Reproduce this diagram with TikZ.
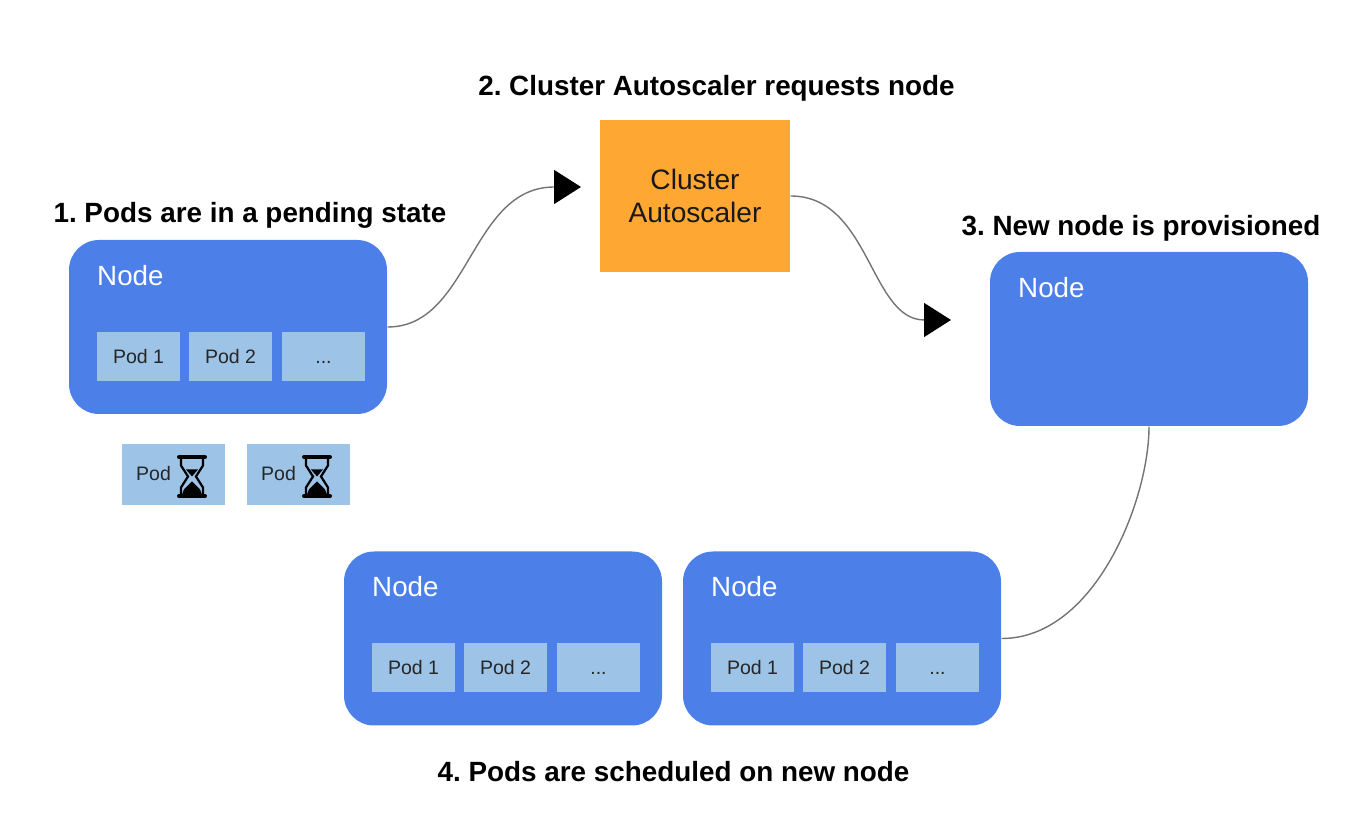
\documentclass[tikz,border=0pt]{standalone}
\usepackage{fontspec}
\setmainfont{Liberation Sans}
\usetikzlibrary{arrows.meta}
\definecolor{nodeblue}{HTML}{4C80E8}
\definecolor{podblue}{HTML}{9DC3E6}
\definecolor{scalerorange}{HTML}{FFA733}
\frenchspacing
\tikzset{
  nodebox/.style={rectangle,rounded corners=0.3cm,fill=nodeblue,minimum width=3.18cm,minimum height=1.74cm,inner sep=0},
  nodelabel/.style={anchor=west,inner sep=0,text=white,font=\fontsize{7.9}{10}\selectfont},
  podbox/.style={rectangle,fill=podblue,minimum width=0.83cm,minimum height=0.49cm,inner sep=0,text height=0.14cm,text depth=0pt,text=black!85,font=\fontsize{5.55}{7}\selectfont},
  waitbox/.style={rectangle,fill=podblue,minimum width=1.03cm,minimum height=0.61cm,inner sep=0},
  waitlabel/.style={inner sep=0,text=black!85,font=\fontsize{5.55}{7}\selectfont},
  steptitle/.style={inner sep=0,font=\fontsize{7.92}{10}\selectfont\bfseries},
  link/.style={draw=black!55,line width=0.14mm},
  linktip/.style={-{Triangle[length=0.27cm,width=0.34cm,fill=black,color=black]}},
  pics/hourglass/.style={code={
    \draw[line width=0.04cm,line cap=round] (-0.13,0.195) -- (0.13,0.195) (-0.13,-0.195) -- (0.13,-0.195);
    \draw[line width=0.022cm] (-0.11,0.19) -- (-0.11,0.11) -- (-0.04,0) -- (-0.11,-0.11) -- (-0.11,-0.19);
    \draw[line width=0.022cm] (0.11,0.19) -- (0.11,0.11) -- (0.04,0) -- (0.11,-0.11) -- (0.11,-0.19);
    \fill (-0.06,0.07) -- (0.06,0.07) -- (0,0) -- cycle;
    \fill (-0.1,-0.18) -- (-0.08,-0.13) -- (0,-0.05) -- (0.08,-0.13) -- (0.1,-0.18) -- cycle;
  }}
}
\begin{document}
\begin{tikzpicture}
\useasboundingbox (0,0) rectangle (13.56,-8.32);
% step titles
\node (titleA) at (2.5,-2.15) [steptitle] {1. Pods are in a pending state};
\node (titleB) at (7.165,-0.88) [steptitle] {2. Cluster Autoscaler requests node};
\node (titleC) at (11.41,-2.28) [steptitle] {3. New node is provisioned};
\node (titleD) at (6.735,-7.72) [steptitle] {4. Pods are scheduled on new node};
% first node
\node (nodeA) at (2.28,-3.27) [nodebox] {};
\node (labelA) at (0.965,-2.76) [nodelabel] {Node};
\node (podA1) at (1.385,-3.565) [podbox] {Pod 1};
\node (podA2) at (2.305,-3.565) [podbox] {Pod 2};
\node (podA3) at (3.235,-3.565) [podbox] {...};
% pending pods
\node (waitA) at (1.735,-4.745) [waitbox] {};
\node (waitB) at (2.985,-4.745) [waitbox] {};
\node (waitlabelA) at (1.535,-4.74) [waitlabel] {Pod};
\node (waitlabelB) at (2.785,-4.74) [waitlabel] {Pod};
\pic at (1.92,-4.765) {hourglass};
\pic at (3.17,-4.765) {hourglass};
% autoscaler
\node (scaler) at (6.95,-1.96) [rectangle,fill=scalerorange,minimum width=1.9cm,minimum height=1.52cm,inner sep=0,align=center,text=black!90,font=\fontsize{8}{9.6}\selectfont] {Cluster\\Autoscaler};
% new node
\node (nodeB) at (11.49,-3.39) [nodebox] {};
\node (labelB) at (10.175,-2.88) [nodelabel] {Node};
% bottom nodes
\node (nodeC) at (5.03,-6.385) [nodebox] {};
\node (labelC) at (3.715,-5.87) [nodelabel] {Node};
\node (podC1) at (4.135,-6.675) [podbox] {Pod 1};
\node (podC2) at (5.055,-6.675) [podbox] {Pod 2};
\node (podC3) at (5.985,-6.675) [podbox] {...};
\node (nodeD) at (8.42,-6.385) [nodebox] {};
\node (labelD) at (7.105,-5.87) [nodelabel] {Node};
\node (podD1) at (7.525,-6.675) [podbox] {Pod 1};
\node (podD2) at (8.445,-6.675) [podbox] {Pod 2};
\node (podD3) at (9.375,-6.675) [podbox] {...};
% connectors
\coordinate (tipA) at (5.81,-1.87);
\coordinate (tipB) at (9.51,-3.2);
\draw[link,linktip] (nodeA.east) .. controls (4.7,-3.27) and (4.7,-1.87) .. (tipA);
\draw[link,linktip] (scaler.east) .. controls (8.7,-1.96) and (8.7,-3.2) .. (tipB);
\draw[link] (nodeB.south) .. controls (11.49,-5.0) and (10.95,-6.385) .. (nodeD.east);
\end{tikzpicture}
\end{document}
